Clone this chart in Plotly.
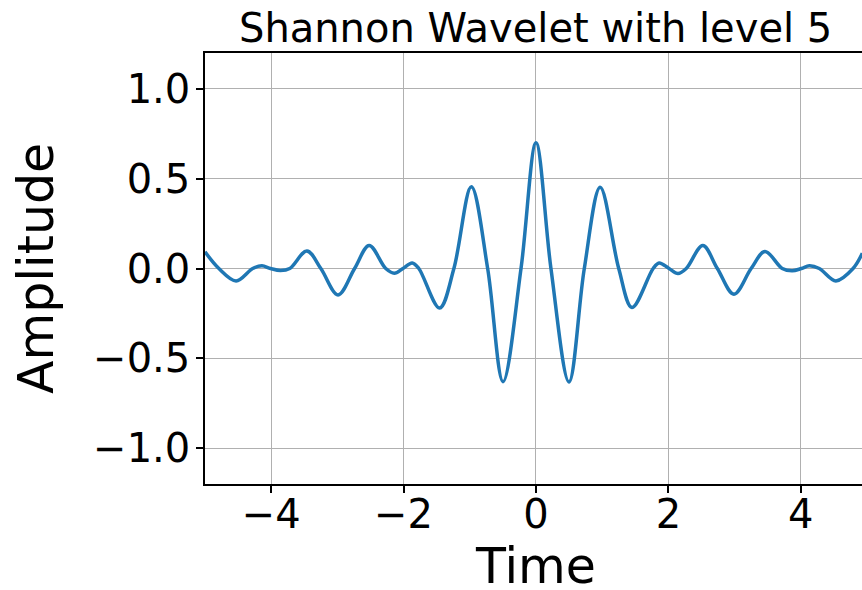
import plotly.graph_objects as go

# Values (extrema and zero crossings)
time = [-5.00, -4.79, -4.53, -4.28, -4.14, -4.01, -3.86, -3.72, -3.46, -3.25,
        -2.99, -2.74, -2.52, -2.27, -2.14, -2.01, -1.87, -1.77, -1.456, -1.24,
        -0.977, -0.73, -0.498, -0.226, 0.0,
        0.226, 0.498, 0.73, 0.97, 1.25, 1.45, 1.77, 1.86, 2.01, 2.145,
        2.27, 2.52, 2.74, 2.99, 3.25, 3.46, 3.72, 3.87, 4.01, 4.13,
        4.28, 4.53, 4.79, 4.93]
amplitude = [0.093, 0.0, -0.069, 0.0, 0.015, 0.0, -0.011, 0.0, 0.098, 0.0,
             -0.147, 0.0, 0.128, 0.0, -0.026, 0.0, 0.031, 0.0, -0.22, 0.0,
             0.455, 0.0, -0.63, 0.0, 0.70,
             0.0, -0.632, 0.0, 0.452, 0.0, -0.217, 0.0, 0.031, 0.0, -0.028,
             0.0, 0.128, 0.0, -0.143, 0.0, 0.095, 0.0, -0.013, 0.0, 0.015,
             0.0, -0.069, 0.0, 0.085]

x_ticks = [-4, -2, 0, 2, 4]
x_tick_labels = ["\u22124", "\u22122", "0", "2", "4"]
y_ticks = [-1.0, -0.5, 0.0, 0.5, 1.0]
y_tick_labels = ["\u22121.0", "\u22120.5", "0.0", "0.5", "1.0"]

title_text = "Shannon Wavelet with level 5"
x_label = "Time"
y_label = "Amplitude"

FONT = "DejaVu Sans"

fig = go.Figure()
fig.add_trace(go.Scatter(
    x=time, y=amplitude, mode="lines",
    line=dict(color="#1f77b4", width=3.5, shape="spline", smoothing=1),
    showlegend=False, hoverinfo="skip",
))

axis_common = dict(
    showgrid=True, gridcolor="#b0b0b0", gridwidth=1.2,
    zeroline=False, automargin=False,
    showline=True, linecolor="black", linewidth=1.5,
    ticks="outside", ticklen=7, tickwidth=1.5, tickcolor="black",
    tickfont=dict(family=FONT, size=40, color="black"),
)

fig.update_xaxes(range=[-5, 4.925], tickmode="array", tickvals=x_ticks,
                 ticktext=x_tick_labels, mirror=True, ticklabelstandoff=-13,
                 **axis_common)
fig.update_yaxes(range=[-1.2, 1.2], tickmode="array", tickvals=y_ticks,
                 ticktext=y_tick_labels, mirror=False, ticklabelstandoff=-2,
                 **axis_common)

fig.update_layout(
    template="none",
    width=862, height=590,
    margin=dict(l=205, r=0, t=53, b=106, pad=0),
    paper_bgcolor="white", plot_bgcolor="white",
    font=dict(family=FONT, color="black"),
    annotations=[
        dict(text=title_text, xref="paper", yref="paper", x=0.5034, y=1,
             xanchor="center", yanchor="bottom", yshift=0, showarrow=False,
             font=dict(family=FONT, size=40, color="black")),
        dict(text=x_label, xref="paper", yref="paper", x=0.5034, y=0,
             xanchor="center", yanchor="top", yshift=-52, showarrow=False,
             font=dict(family=FONT, size=49, color="black")),
        dict(text=y_label, xref="paper", yref="paper", x=-0.2566, y=0.5,
             xanchor="center", yanchor="middle", textangle=-90, showarrow=False,
             font=dict(family=FONT, size=49, color="black")),
    ],
)

fig.write_html("out.html", config={"displayModeBar": False},
               post_script="document.body.style.margin='0';")
